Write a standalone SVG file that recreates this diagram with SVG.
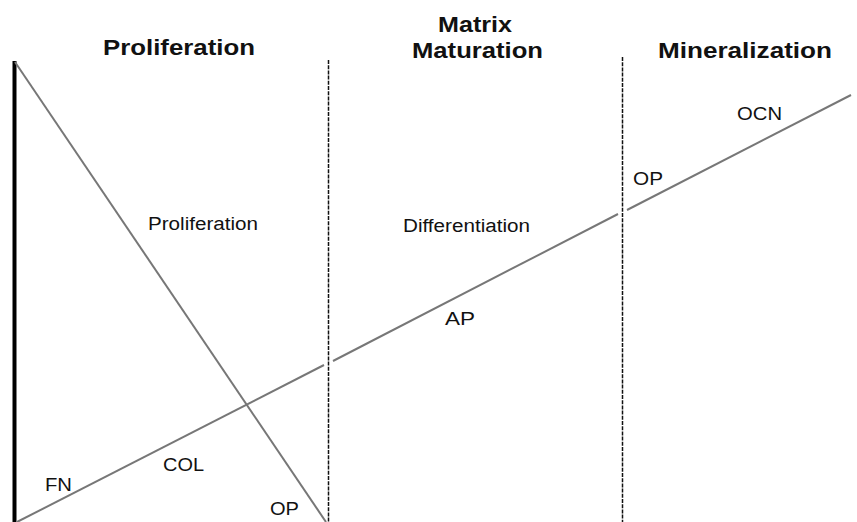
<svg xmlns="http://www.w3.org/2000/svg" width="857" height="522" viewBox="0 0 857 522">
  <style>
    .title { font-family: "Liberation Sans", Arial, sans-serif; font-weight: bold; font-size: 22px; fill: #111; }
    .label { font-family: "Liberation Sans", Arial, sans-serif; font-size: 18px; fill: #111; }
    .curve { stroke: #777; stroke-width: 2; fill: none; }
    .divider { stroke: #111; stroke-width: 1.5; stroke-dasharray: 4 1.2; fill: none; }
  </style>
  <rect width="857" height="522" fill="#fff"/>

  <!-- phase headings -->
  <g id="phase-proliferation">
    <text class="title" x="103" y="55" textLength="152" lengthAdjust="spacingAndGlyphs">Proliferation</text>
  </g>
  <g id="phase-matrix-maturation">
    <text class="title" x="438" y="32" textLength="74" lengthAdjust="spacingAndGlyphs">Matrix</text>
    <text class="title" x="412" y="58" textLength="131" lengthAdjust="spacingAndGlyphs">Maturation</text>
  </g>
  <g id="phase-mineralization">
    <text class="title" x="658" y="58" textLength="174" lengthAdjust="spacingAndGlyphs">Mineralization</text>
  </g>

  <!-- axis and phase dividers -->
  <g id="axes">
    <line x1="14.5" y1="61" x2="14.5" y2="522" stroke="#000" stroke-width="4"/>
    <line class="divider" x1="328.5" y1="60" x2="328.5" y2="522"/>
    <line class="divider" x1="622.5" y1="57" x2="622.5" y2="522"/>
  </g>

  <!-- trend lines -->
  <g id="connectors">
    <line id="proliferation-trend" class="curve" x1="15" y1="62" x2="326" y2="522"/>
    <line id="differentiation-trend-1" class="curve" x1="17" y1="522" x2="324" y2="365"/>
    <line id="differentiation-trend-2" class="curve" x1="333" y1="361" x2="618" y2="214"/>
    <line id="differentiation-trend-3" class="curve" x1="627" y1="210" x2="851" y2="95"/>
  </g>

  <!-- curve labels -->
  <g id="label-proliferation"><text class="label" x="148" y="230" textLength="110" lengthAdjust="spacingAndGlyphs">Proliferation</text></g>
  <g id="label-differentiation"><text class="label" x="403" y="232" textLength="127" lengthAdjust="spacingAndGlyphs">Differentiation</text></g>
  <g id="label-ap"><text class="label" x="445" y="325" textLength="30" lengthAdjust="spacingAndGlyphs">AP</text></g>
  <g id="label-op-upper"><text class="label" x="633" y="185" textLength="30" lengthAdjust="spacingAndGlyphs">OP</text></g>
  <g id="label-ocn"><text class="label" x="737" y="120" textLength="45" lengthAdjust="spacingAndGlyphs">OCN</text></g>
  <g id="label-fn"><text class="label" x="45" y="491" textLength="27" lengthAdjust="spacingAndGlyphs">FN</text></g>
  <g id="label-col"><text class="label" x="163" y="471" textLength="41" lengthAdjust="spacingAndGlyphs">COL</text></g>
  <g id="label-op-lower"><text class="label" x="270" y="515" textLength="29" lengthAdjust="spacingAndGlyphs">OP</text></g>
</svg>
